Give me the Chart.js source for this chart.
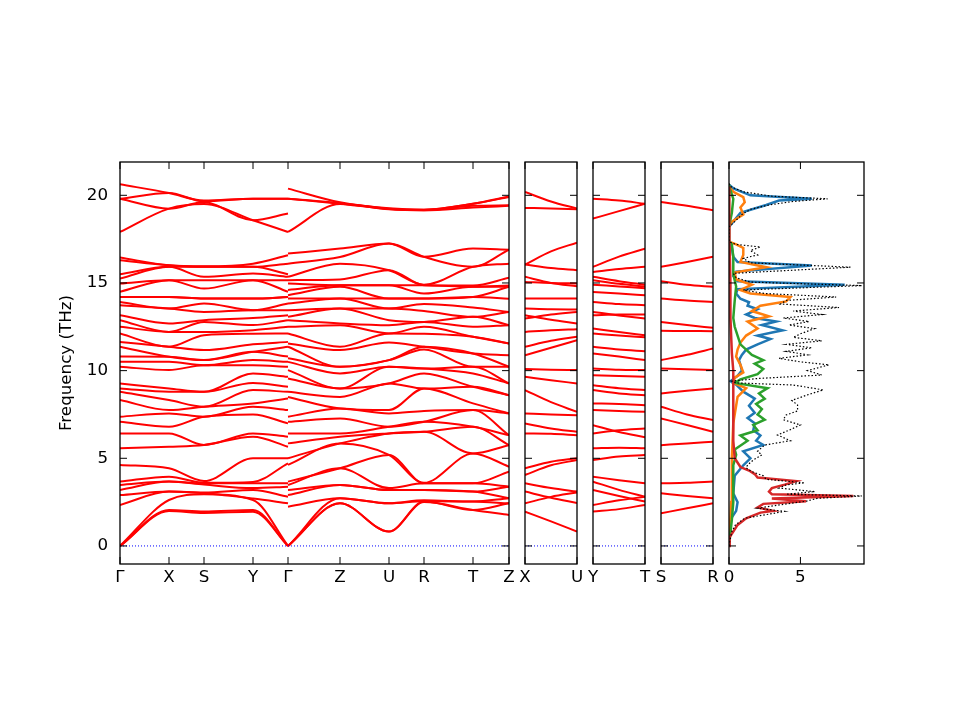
<!DOCTYPE html>
<html>
<head>
<meta charset="utf-8">
<script src="https://cdn.jsdelivr.net/npm/chart.js@4.4.0/dist/chart.umd.min.js"></script>
<style>
  html, body { margin: 0; padding: 0; background: #fff; }
  #wrap { position: relative; width: 960px; height: 720px; }
  #wrap canvas { position: absolute; left: 0; top: 0; }
</style>
</head>
<body>
<div id="wrap">
  <canvas id="bands"></canvas>
  <canvas id="xu"></canvas>
  <canvas id="yt"></canvas>
  <canvas id="sr"></canvas>
  <canvas id="dos"></canvas>
</div>
<script>
// high symmetry path, positions along the path
const kTicks = [0, 49, 84, 133, 168, 220, 269, 304, 353, 389];
const kLabels = ['Γ', 'X', 'S', 'Y', 'Γ', 'Z', 'U', 'R', 'T', 'Z'];
const kA = [0, 49, 84, 133, 168];
const kB = [168, 220, 269, 304, 353, 389];
const freqTicks = [0, 5, 10, 15, 20];

// frequencies (THz) read at each point, lowest band first
const atGammaA = [0,0,0,2.34,2.9,3.19,3.48,3.67,4.62, 5.57,6.42,7.08,7.37,8.32,8.79,8.98,9.27,
  10.22,10.5,10.8,11.36,11.64,12.12,12.5,12.88,13.16,13.73,13.92, 14.2,14.2,14.5,14.97,15.25,15.5,16.3,16.45,
  17.91,19.8,19.8,20.63];
const atX = [2.0,2.05,2.62,3.1,3.1,3.67,3.67,3.95,4.43, 5.66,6.42,6.8,7.56,7.75,8.32,8.79,8.98,
  10.03,10.5,10.79,10.79,11.36,11.36,12.21,12.21,12.69,13.54,13.54, 14.2,14.2,15.16,15.16,15.92,15.92,16.01,16.01,
  19.24,19.24,20.13,20.13];
const atS = [1.88,1.96,2.95,3.0,3.05,3.5,3.57,3.6,3.7, 5.76,5.76,7.37,7.37,7.94,7.94,8.79,8.79,
  10.31,10.31,10.6,10.6,11.17,12.02,12.21,12.78,12.88,13.35,13.83, 14.11,14.11,14.68,15.16,15.35,15.92,15.92,15.95,
  19.5,19.6,19.65,19.7];
const atY = [1.95,2.05,2.62,2.7,3.19,3.3,3.57,3.65,5.0, 6.23,6.42,7.5,7.94,8.13,8.89,9.3,9.84,
  10.3,10.6,11.07,11.07,11.5,12.1,12.31,12.6,13.0,13.45,13.45, 14.11,14.11,15.16,15.16,15.54,15.92,15.92,16.1,
  18.58,18.58,19.81,19.81];
const atGammaA2 = [0,0,0,2.43,2.81,3.38,3.57,4.71,5.0, 5.66,6.23,6.99,7.75,8.41,8.79,9.08,9.65,
  10.22,10.5,10.8,11.36,11.64,12.12,12.5,12.88,13.16,13.45,13.83, 14.2,14.2,14.5,15.16,15.35,15.5,16.1,16.58,
  17.91,18.96,19.81,19.81];
const atGammaB = [0,0,0,2.24,2.9,3.19,3.48,3.67,4.62, 5.0,5.85,6.42,7.08,7.37,8.5,8.79,9.55,
  10.03,10.5,10.7,11.36,11.55,12.12,12.5,12.88,13.07,13.45,13.83, 14.11,14.3,14.6,14.97,15.16,15.35,16.1,16.68,
  17.91,19.81,19.81,20.38];
const atZ = [2.43,2.43,2.72,2.72,3.48,3.48,4.43,4.43,5.85, 5.85,6.23,6.42,7.27,7.84,7.84,8.5,8.98,
  8.98,9.84,10.22,10.22,11.17,11.36,12.59,12.69,13.54,13.54,14.11, 14.11,14.78,14.87,14.87,15.2,16.1,16.48,16.96,
  19.5,19.52,19.55,19.6];
const atU = [0.82,0.82,2.43,2.43,3.19,3.19,3.3,5.19,5.19, 6.42,6.42,6.8,6.8,7.56,7.75,9.27,9.27,
  10.22,10.22,10.6,10.6,11.6,12.12,12.12,12.59,12.88,13.54,13.54, 14.11,14.11,14.87,14.87,15.73,15.73,17.25,17.25,
  19.2,19.22,19.24,19.26];
const atR = [2.5,2.53,2.55,2.6,3.19,3.19,3.57,3.57,3.6, 6.51,6.51,7.08,7.08,7.7,8.98,8.98,9.84,
  10.12,10.12,11.2,11.36,11.36,12.1,12.5,12.78,12.78,13.4,13.8, 14.11,14.11,14.4,14.87,14.87,14.9,16.49,16.49,
  19.15,19.15,19.18,19.18];
const atT = [2.05,2.05,2.53,2.53,3.1,3.1,3.57,3.57,5.28, 5.28,6.8,6.8,7.75,7.75,8.13,9.08,9.08,
  9.84,10.22,10.22,10.98,10.98,11.93,11.93,12.5,13.07,13.07,13.6, 14.2,14.2,14.78,14.78,14.85,15.92,15.92,16.96,
  19.3,19.4,19.52,19.52];
const atZ2 = [1.77,2.43,2.43,2.72,2.72,3.38,3.38,4.24,4.52, 5.75,5.75,6.32,6.32,7.56,7.56,8.6,8.6,
  9.27,9.27,10.22,10.22,10.88,11.55,11.55,12.59,12.59,13.35,13.35, 14.1,14.78,14.78,14.85,15.3,16.1,16.9,16.9,
  19.4,19.43,19.9,19.94];

// small panels: start, middle, end of each band
const xuAtX = [1.96,2.43,3.1,3.57,4.05,4.43,6.42,6.99,7.56,8.89,9.65,10.09,10.88,11.36,12.21,12.97,13.16,13.54,14.11,15.06,15.35,16.05,16.05,19.28,20.19];
const xuMid = [1.4,2.8,2.75,3.3,4.6,4.8,6.4,6.7,7.5,8.2,9.45,10.05,11.3,11.7,12.3,13.2,12.9,13.5,14.11,15.0,15.0,15.85,16.8,19.25,19.65];
const xuAtU = [0.82,3.05,2.45,3.1,4.9,5.0,6.32,6.51,7.46,7.65,9.27,10.03,11.74,11.93,12.36,13.35,12.69,13.49,14.11,14.97,14.81,15.73,17.3,19.2,19.24];

const ytAtY = [1.96,2.34,3.19,3.67,3.95,4.9,5.57,6.42,6.89,7.75,8.13,8.89,9.17,9.74,10.12,10.98,11.36,12.12,12.4,13.16,13.35,13.92,14.49,14.9,15.16,15.35,15.63,15.92,18.67,19.81];
const ytMid = [2.1,2.6,2.85,3.2,3.75,5.1,5.6,6.6,6.5,7.7,8.1,8.7,9.0,9.7,10.05,10.8,11.2,12.0,12.2,13.2,13.15,13.8,14.4,14.8,14.95,15.1,15.8,16.5,19.1,19.7];
const ytAtT = [2.34,2.81,2.53,2.81,3.57,5.19,5.57,6.7,6.2,7.65,8.03,8.6,8.89,9.65,10.03,10.6,11.1,11.9,12.02,13.2,12.97,13.73,14.3,14.7,14.8,14.9,15.92,16.96,19.52,19.52];

const srAtS = [1.86,3.0,3.57,5.75,7.27,7.94,8.7,10.12,10.6,12.27,12.78,14.11,15.1,15.92,19.62];
const srMid = [2.15,2.85,3.6,5.85,6.9,7.5,8.85,10.08,10.9,12.26,12.6,14.0,14.9,16.2,19.4];
const srAtR = [2.43,2.72,3.67,5.94,6.51,7.18,8.98,10.03,11.26,12.25,12.44,13.92,14.78,16.49,19.15];

// density of states: frequency (THz) and value
const totalFreq = [0,0.25,0.82,1.2,1.58,1.97,2.15,2.34,2.55,2.72,2.85,2.95,3.1,3.3,3.48,3.6,3.8,4.0,4.24,4.45,4.62,4.9,5.19,5.4,5.76,6.0,6.33,6.6,6.9,7.2,7.47,7.7,8.04,8.3,8.62,8.9,9.18,9.3,9.4,9.55,9.75,10.0,10.33,10.5,10.7,10.9,11.1,11.3,11.5,11.7,11.9,12.1,12.4,12.6,12.8,13.0,13.2,13.4,13.6,13.8,14.0,14.2,14.4,14.6,14.85,15.05,15.3,15.55,15.9,16.15,16.4,16.6,16.85,17.05,17.2,17.35,18.2,18.5,18.9,19.2,19.45,19.65,19.8,19.95,20.2,20.5,20.7];
const totalDos = [0,0.05,0.2,0.45,1.1,3.9,2.0,3.5,5.4,6.2,9.3,4.0,6.0,3.5,4.0,5.3,2.6,2.4,1.6,1.2,1.3,1.7,2.3,2.0,2.5,4.3,3.4,4.2,5.0,3.8,4.0,4.8,4.8,4.4,5.5,6.6,4.5,0.5,0.2,2.0,6.5,5.5,7.0,5.0,3.5,5.5,4.0,5.8,4.0,6.5,4.5,5.0,6.0,4.2,5.6,3.8,6.5,4.5,7.7,3.6,4.0,7.5,2.5,1.0,9.3,1.5,0.5,0.3,8.5,1.5,1.0,2.0,1.5,2.2,0.5,0.0,0.0,0.4,0.9,1.5,2.8,4.5,6.9,3.0,1.0,0.1,0];
const blueFreq = [0,1.5,2.0,2.5,3.0,4.0,4.6,5.0,5.4,5.76,6.0,6.3,6.6,7.0,7.3,7.6,8.0,8.4,8.8,9.2,9.4,9.7,10.0,10.33,10.6,10.9,11.2,11.5,11.8,12.0,12.3,12.6,12.8,13.0,13.2,13.5,13.7,13.9,14.1,14.4,14.65,14.9,15.1,15.4,15.65,16.0,16.2,16.5,17.0,17.3,18.2,18.5,19.0,19.45,19.7,19.8,20.0,20.4,20.6];
const blueDos = [0,0.1,0.5,0.6,0.3,0.4,1.0,1.5,1.0,2.4,1.9,2.2,1.7,1.8,1.3,1.8,1.4,1.8,1.0,0.5,0.1,0.6,0.9,0.8,0.7,0.9,1.2,2.0,2.9,2.0,3.75,2.3,3.3,1.8,1.2,2.0,1.3,1.4,0.8,0.5,0.6,8.1,0.6,0.3,0.5,5.8,0.6,0.3,0.2,0,0,0.3,0.8,2.6,3.5,5.8,1.5,0.3,0];
const orangeFreq = [0,2.5,5.0,7.0,8.5,9.0,9.3,9.6,9.9,10.33,10.8,11.2,11.6,12.0,12.4,12.8,13.1,13.4,13.7,13.95,14.2,14.4,14.6,14.9,15.2,15.6,15.9,16.2,16.6,17.0,17.2,17.35,18.2,18.5,18.9,19.3,19.6,19.9,20.2,20.5];
const orangeDos = [0,0.15,0.2,0.3,0.6,1.2,0.3,0.4,1.0,0.8,0.5,0.6,0.8,1.2,2.0,1.3,2.8,1.6,2.2,4.0,4.3,1.5,0.8,1.6,0.5,0.4,2.6,0.8,1.0,1.0,0.5,0,0,0.2,1.0,0.8,1.1,1.0,0.3,0];
const greenFreq = [0,1.5,2.5,3.5,4.6,5.2,5.5,6.0,6.3,6.6,6.9,7.2,7.5,7.8,8.1,8.4,8.7,9.0,9.3,9.5,9.8,10.1,10.4,10.6,10.9,11.2,11.5,12.0,12.5,13.0,14.0,14.8,15.5,16.5,17.2,17.4,18.2,19.0,19.8,20.3,20.6];
const greenDos = [0,0.2,0.3,0.3,0.3,0.5,0.4,1.3,0.8,2.0,1.7,2.5,2.0,2.3,1.9,2.5,2.1,2.7,0.4,0.8,2.0,2.4,1.8,2.4,1.6,1.2,0.8,0.6,0.4,0.3,0.4,0.5,0.3,0.3,0.2,0,0,0.2,0.3,0.1,0];
const redFreq = [0,0.5,0.82,1.2,1.58,1.9,2.0,2.2,2.4,2.55,2.7,2.85,2.95,3.1,3.3,3.5,3.7,3.9,4.1,4.3,4.5,5.0,6.0,8.0,9.0,10.0,11.0,13.0,15.0,17.0,19.0,20.5];
const redDos = [0,0.05,0.3,0.6,1.2,2.2,3.1,2.0,2.4,5.4,3.0,8.7,3.0,2.8,3.0,3.9,4.7,2.0,1.8,1.4,0.8,0.4,0.3,0.3,0.3,0.3,0.2,0.1,0.1,0.05,0.05,0];

// layout
const Y_MIN = -1.03, Y_MAX = 21.9;
const PLOT_TOP = 162, PLOT_BOTTOM = 564;
const X_AXIS_H = 30, Y_AXIS_W = 63;
const FONT = { family: 'DejaVu Sans', size: 16.7 };

const framePlugin = {
  id: 'frame',
  afterDatasetsDraw(chart, args, opts) {
    const { ctx, chartArea: a, scales: { x, y } } = chart;
    ctx.save();
    ctx.strokeStyle = '#000';
    ctx.lineWidth = 1;
    ctx.beginPath();
    opts.xTicks.forEach(v => {
      const px = x.getPixelForValue(v);
      ctx.moveTo(px, a.bottom); ctx.lineTo(px, a.bottom - 7);
      ctx.moveTo(px, a.top); ctx.lineTo(px, a.top + 7);
    });
    freqTicks.forEach(v => {
      const py = y.getPixelForValue(v);
      ctx.moveTo(a.left, py); ctx.lineTo(a.left + 7, py);
      ctx.moveTo(a.right, py); ctx.lineTo(a.right - 7, py);
    });
    ctx.stroke();
    ctx.lineWidth = 1.3;
    ctx.strokeRect(a.left, a.top, a.right - a.left, a.bottom - a.top);
    ctx.restore();
  }
};

function makeChart(id, left, right, xMin, xMax, xTicks, xLabels, datasets, showY) {
  const canvas = document.getElementById(id);
  canvas.width = 960;
  canvas.height = 720;
  return new Chart(canvas, {
    type: 'scatter',
    data: { datasets: datasets },
    options: {
      responsive: false,
      animation: false,
      devicePixelRatio: 1,
      events: [],
      layout: { padding: { left: showY ? left - Y_AXIS_W : left, right: 960 - right, top: PLOT_TOP, bottom: 720 - PLOT_BOTTOM - X_AXIS_H } },
      plugins: { legend: { display: false }, tooltip: { enabled: false }, frame: { xTicks: xTicks } },
      elements: { point: { radius: 0, hoverRadius: 0 } },
      scales: {
        x: {
          type: 'linear', min: xMin, max: xMax,
          grid: { display: false, drawTicks: false }, border: { display: false },
          afterBuildTicks: s => { s.ticks = xTicks.map(v => ({ value: v })); },
          afterFit: s => { s.height = X_AXIS_H; },
          ticks: { autoSkip: false, maxRotation: 0, padding: 4, color: '#000', font: FONT,
                   callback: (v, i) => xLabels[i] }
        },
        y: {
          type: 'linear', min: Y_MIN, max: Y_MAX, display: showY,
          grid: { display: false, drawTicks: false }, border: { display: false },
          afterBuildTicks: s => { s.ticks = freqTicks.map(v => ({ value: v })); },
          afterFit: s => { s.width = showY ? Y_AXIS_W : 0; },
          ticks: { padding: 12, color: '#000', font: FONT },
          title: { display: true, text: 'Frequency (THz)', color: '#000', font: FONT, padding: 0 }
        }
      }
    },
    plugins: [framePlugin]
  });
}

function bandLine(xs, ys) {
  return {
    data: xs.map((x, j) => ({ x: x, y: ys[j] })),
    showLine: true, fill: false, pointRadius: 0,
    borderColor: '#ff0000', borderWidth: 2,
    cubicInterpolationMode: 'monotone'
  };
}

function zeroLine(x0, x1) {
  return {
    data: [{ x: x0, y: 0 }, { x: x1, y: 0 }],
    showLine: true, fill: false, pointRadius: 0,
    borderColor: '#0000ff', borderWidth: 1, borderDash: [1, 2]
  };
}

// main band panel
const colsA = [atGammaA, atX, atS, atY, atGammaA2];
const colsB = [atGammaB, atZ, atU, atR, atT, atZ2];
const mainSets = [zeroLine(0, 389)];
for (let i = 0; i < atGammaA.length; i++) {
  mainSets.push(bandLine(kA, colsA.map(c => c[i])));
  mainSets.push(bandLine(kB, colsB.map(c => c[i])));
}
makeChart('bands', 120, 509, 0, 389, kTicks, kLabels, mainSets, true);

// small panels
function smallSets(starts, mids, ends) {
  const sets = [zeroLine(0, 1)];
  for (let i = 0; i < starts.length; i++) {
    sets.push(bandLine([0, 0.5, 1], [starts[i], mids[i], ends[i]]));
  }
  return sets;
}
makeChart('xu', 525, 577, 0, 1, [0, 1], ['X', 'U'], smallSets(xuAtX, xuMid, xuAtU), false);
makeChart('yt', 593, 645, 0, 1, [0, 1], ['Y', 'T'], smallSets(ytAtY, ytMid, ytAtT), false);
makeChart('sr', 661, 713, 0, 1, [0, 1], ['S', 'R'], smallSets(srAtS, srMid, srAtR), false);

// DOS panel
function dosLine(freqs, vals, color, width, dash) {
  return {
    data: freqs.map((f, j) => ({ x: vals[j], y: f })),
    showLine: true, fill: false, pointRadius: 0,
    borderColor: color, borderWidth: width, borderDash: dash, tension: 0
  };
}
makeChart('dos', 729, 864, 0, 9.45, [0, 5], ['0', '5'], [
  dosLine(totalFreq, totalDos, '#000000', 1.2, [1.5, 2]),
  dosLine(redFreq, redDos, '#d62728', 2.5, []),
  dosLine(greenFreq, greenDos, '#2ca02c', 2.5, []),
  dosLine(orangeFreq, orangeDos, '#ff7f0e', 2.5, []),
  dosLine(blueFreq, blueDos, '#1f77b4', 2.5, [])
], false);
</script>
</body>
</html>
